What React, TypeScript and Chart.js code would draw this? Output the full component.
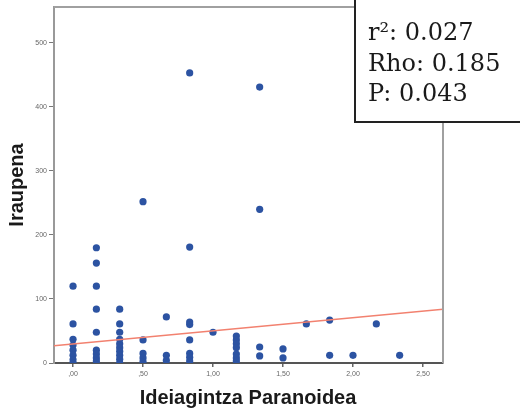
import { useEffect, useRef } from "react";
import { Chart, registerables } from "chart.js";

Chart.register(...registerables);

// x levels (Ideiagintza Paranoidea) and the Iraupena values observed at each level
const X_LEVELS = [0, 0.1667, 0.3333, 0.5, 0.6667, 0.8333, 1.0, 1.1667, 1.3333, 1.5, 1.6667, 1.8333, 2.0, 2.1667, 2.3333];
const Y_BY_LEVEL = [
  [120, 61, 37, 28, 20, 12, 5, 0],
  [180, 156, 120, 84, 48, 20, 14, 8, 3],
  [84, 61, 48, 37, 30, 24, 18, 12, 6, 0],
  [252, 36, 15, 8, 2],
  [72, 12, 4],
  [453, 181, 64, 60, 36, 15, 9, 3],
  [48],
  [42, 36, 30, 24, 14, 8, 3],
  [431, 240, 25, 11],
  [22, 8],
  [61],
  [67, 12],
  [12],
  [61],
  [12],
];
const X_TICKS = [0, 0.5, 1, 1.5, 2, 2.5];
const X_TICK_LABELS = [",00", ",50", "1,00", "1,50", "2,00", "2,50"];
const Y_TICKS = [0, 100, 200, 300, 400, 500];
const FIT_X = [-0.136, 2.643];
const FIT_Y = [27, 84];
const STATS = ["r²: 0.027", "Rho: 0.185", "P: 0.043"];
const X_TITLE = "Ideiagintza Paranoidea";
const Y_TITLE = "Iraupena";

export default function App() {
  const ref = useRef<HTMLCanvasElement | null>(null);

  useEffect(() => {
    if (!ref.current) return;
    const points: { x: number; y: number }[] = [];
    X_LEVELS.forEach((x, i) => Y_BY_LEVEL[i].forEach((y) => points.push({ x, y })));
    const fit = FIT_X.map((x, i) => ({ x, y: FIT_Y[i] }));

    const decor = {
      id: "decor",
      afterDraw(chart: any) {
        const ctx = chart.ctx;
        const a = chart.chartArea;
        ctx.save();
        // frame top/right
        ctx.strokeStyle = "#a0a0a0";
        ctx.lineWidth = 2;
        ctx.beginPath();
        ctx.moveTo(a.left, a.top);
        ctx.lineTo(a.right, a.top);
        ctx.lineTo(a.right, a.bottom);
        ctx.stroke();
        // titles
        ctx.fillStyle = "#1a1a1a";
        ctx.font = "bold 20px 'Liberation Sans', Arial, sans-serif";
        ctx.textAlign = "center";
        ctx.textBaseline = "alphabetic";
        ctx.fillText(X_TITLE, 248, 404);
        ctx.save();
        ctx.translate(23, 185);
        ctx.rotate(-Math.PI / 2);
        ctx.fillText(Y_TITLE, 0, 0);
        ctx.restore();
        // stats box
        ctx.fillStyle = "#ffffff";
        ctx.fillRect(355, -5, 200, 127);
        ctx.strokeStyle = "#222";
        ctx.lineWidth = 2;
        ctx.strokeRect(355, -5, 200, 127);
        ctx.fillStyle = "#1a1a1a";
        ctx.font = "24px 'DejaVu Serif', serif";
        ctx.textAlign = "left";
        STATS.forEach((s, i) => ctx.fillText(s, 368, 40 + i * 30.5));
        ctx.restore();
      },
    };

    const chart = new Chart(ref.current, {
      type: "scatter",
      data: {
        datasets: [
          {
            type: "line",
            data: fit,
            borderColor: "#f2816f",
            borderWidth: 1.5,
            pointRadius: 0,
            order: 0,
          } as any,
          {
            type: "scatter",
            data: points,
            backgroundColor: "#2c53a2",
            borderWidth: 0,
            pointRadius: 3.6,
            order: 1,
          },
        ],
      },
      options: {
        animation: false,
        responsive: false,
        devicePixelRatio: 1,
        layout: { padding: { top: 7, right: 77, left: 0, bottom: 0 } },
        plugins: { legend: { display: false }, tooltip: { enabled: false } },
        scales: {
          x: {
            type: "linear",
            min: -0.136,
            max: 2.643,
            afterBuildTicks: (s: any) => {
              s.ticks = X_TICKS.map((v) => ({ value: v }));
            },
            afterFit: (s: any) => {
              s.height = 50;
            },
            ticks: {
              callback: (v: any) => X_TICK_LABELS[X_TICKS.indexOf(Number(v))] ?? "",
              font: { size: 7, family: "'Liberation Sans', Arial, sans-serif" },
              color: "#666",
              padding: 3,
              maxRotation: 0,
            },
            grid: { display: true, drawOnChartArea: false, drawTicks: true, tickLength: 4, color: "#666", lineWidth: 1.5 },
            border: { display: true, color: "#555", width: 2 },
          },
          y: {
            type: "linear",
            min: 0,
            max: 556,
            afterBuildTicks: (s: any) => {
              s.ticks = Y_TICKS.map((v) => ({ value: v }));
            },
            afterFit: (s: any) => {
              s.width = 54;
            },
            ticks: {
              font: { size: 7, family: "'Liberation Sans', Arial, sans-serif" },
              color: "#666",
              padding: 2,
            },
            grid: { display: true, drawOnChartArea: false, drawTicks: true, tickLength: 5, color: "#777", lineWidth: 1 },
            border: { display: true, color: "#999", width: 2 },
          },
        },
      },
      plugins: [decor],
    });
    return () => chart.destroy();
  }, []);

  return (
    <div style={{ position: "absolute", left: 0, top: 0, width: 520, height: 413, background: "#fff" }}>
      <canvas ref={ref} width={520} height={413} />
    </div>
  );
}
